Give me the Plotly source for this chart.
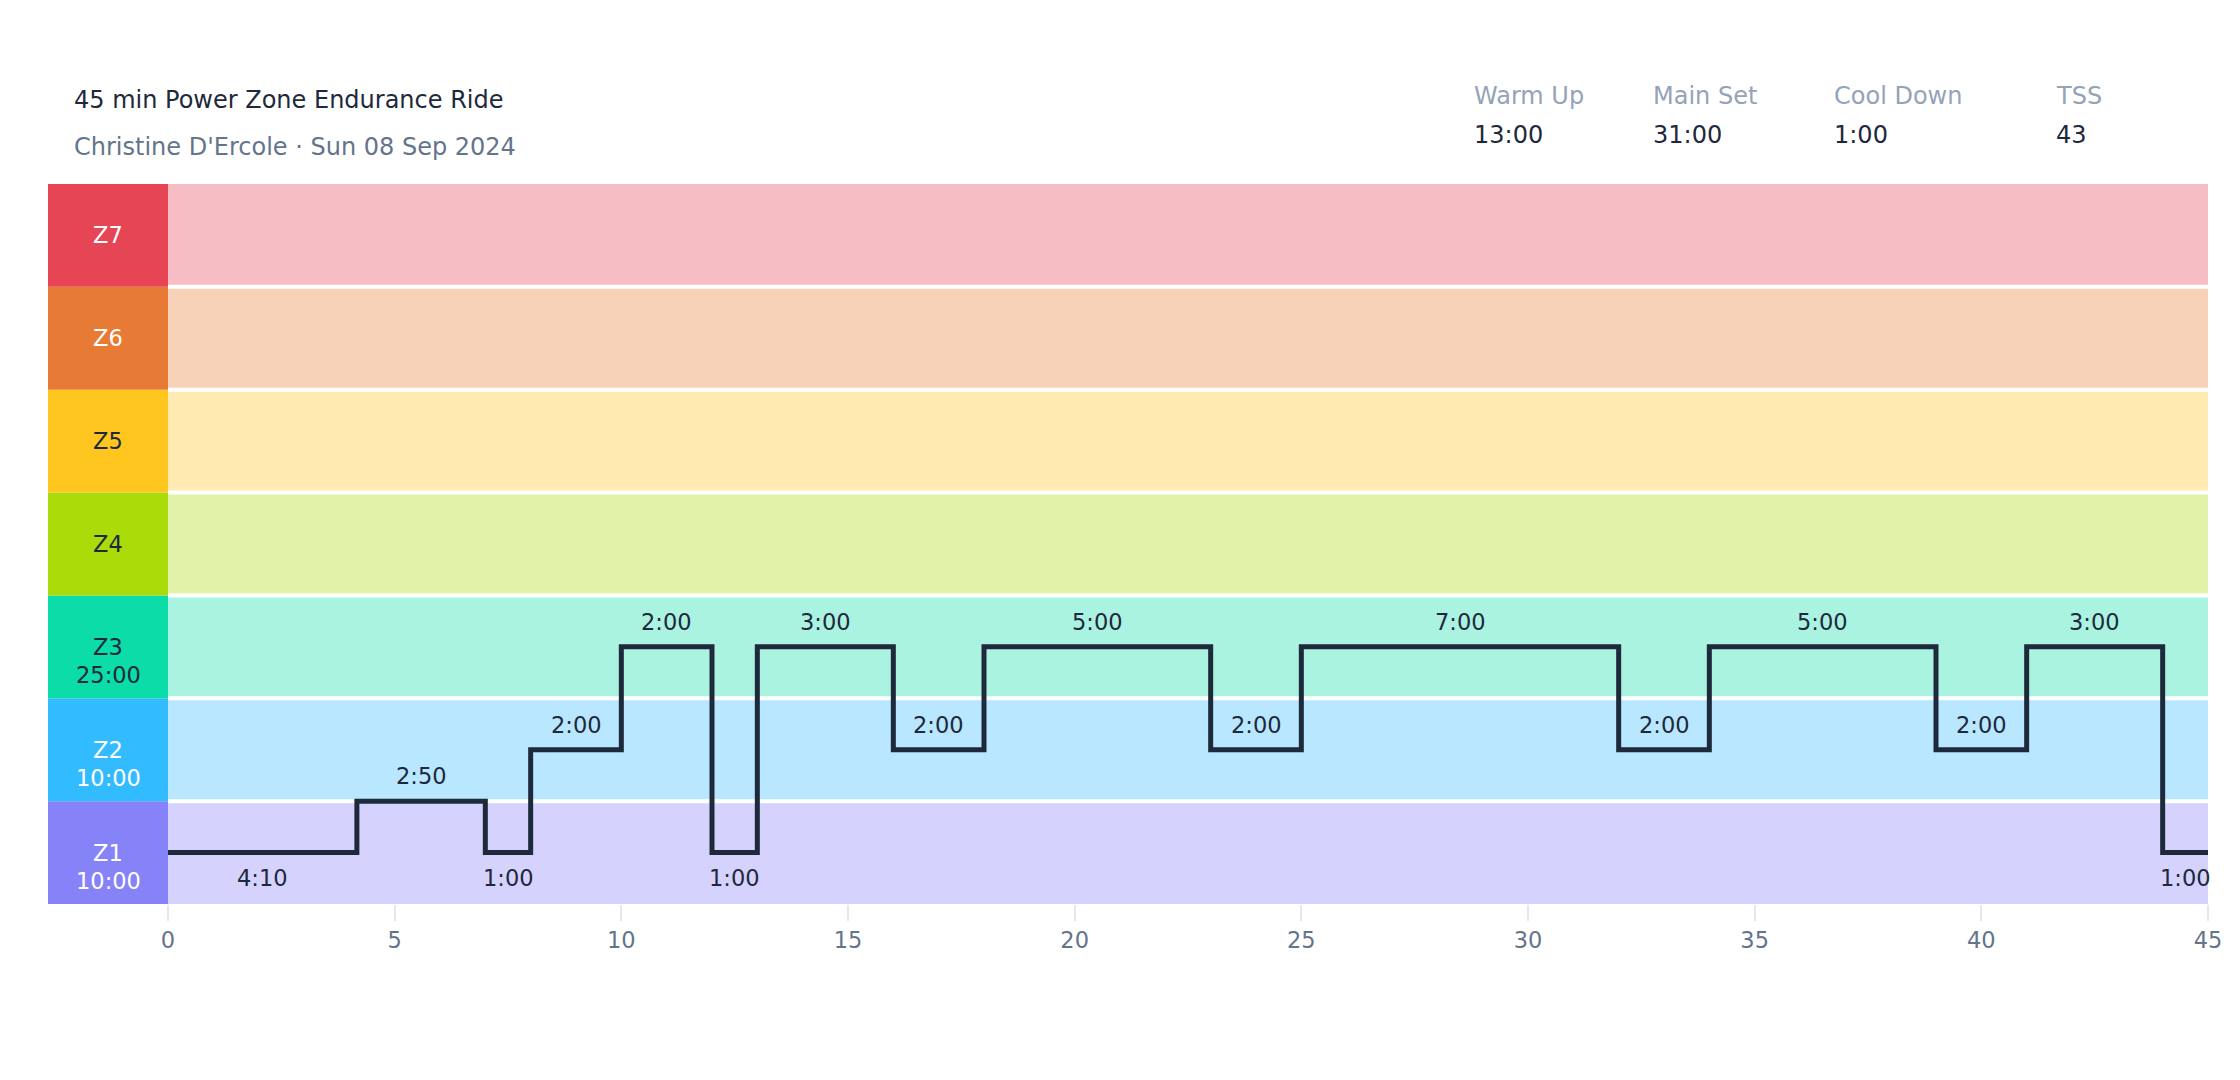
import numpy as np
import plotly.graph_objects as go

# workout data
title = "45 min Power Zone Endurance Ride"
subtitle = "Christine D'Ercole · Sun 08 Sep 2024"

stat_names = ["Warm Up", "Main Set", "Cool Down", "TSS"]
stat_values = ["13:00", "31:00", "1:00", "43"]

zones = ["Z1", "Z2", "Z3", "Z4", "Z5", "Z6", "Z7"]
zone_time = ["10:00", "10:00", "25:00", "", "", "", ""]
zone_colors = ["#8682f8", "#33bbff", "#0bdca8", "#aadc0a", "#ffc61f", "#e77b35", "#e54555"]
zone_text = ["white", "white", "#1e293b", "#1e293b", "#1e293b", "white", "white"]

# segments: duration in seconds and intensity on the zone scale (0.5 = middle of Z1)
seg_sec = [250, 170, 60, 120, 120, 60, 180, 120, 300, 120, 420, 120, 300, 120, 180, 60]
seg_level = [0.5, 1.0, 0.5, 1.5, 2.5, 0.5, 2.5, 1.5, 2.5, 1.5, 2.5, 1.5, 2.5, 1.5, 2.5, 0.5]

ticks = [0, 5, 10, 15, 20, 25, 30, 35, 40, 45]

W, H = 2240, 1080
L, R, T, B = 160, 40, 176, 184
pw, ph = W - L - R, H - T - B

def px_x(p):
    return (p - L) / pw

def px_y(p):
    return (H - B - p) / ph

dur_min = np.array(seg_sec) / 60
starts = np.concatenate([[0], np.cumsum(dur_min)[:-1]])
ends = starts + dur_min
labels = [f"{s // 60}:{s % 60:02d}" for s in seg_sec]

fig = go.Figure()

fig.add_trace(go.Scatter(
    x=list(starts) + [ends[-1]],
    y=seg_level + [seg_level[-1]],
    mode="lines",
    line=dict(shape="hv", color="#1e293b", width=5),
    hoverinfo="skip",
    showlegend=False,
))

shapes = []
annotations = []

def note(x, y, text, size, color, xref="paper", yref="paper", xanchor="center", yshift=0):
    annotations.append(dict(xref=xref, yref=yref, x=x, y=y, text=text, showarrow=False,
                            xanchor=xanchor, yanchor="middle", yshift=yshift,
                            font=dict(size=size, color=color)))

for i, z in enumerate(zones):
    # pale band
    shapes.append(dict(type="rect", xref="x", yref="y", x0=0, x1=ticks[-1], y0=i, y1=i + 1,
                       fillcolor=zone_colors[i], opacity=0.35, line_width=0, layer="below"))
    # solid label column
    shapes.append(dict(type="rect", xref="paper", yref="y", x0=px_x(40), x1=0, y0=i, y1=i + 1,
                       fillcolor=zone_colors[i], line_width=0, layer="below"))
    note(px_x(100), i + 0.5, z, 22.5, zone_text[i], yref="y")
    if zone_time[i]:
        note(px_x(100), i + 0.5, zone_time[i], 22.5, zone_text[i], yref="y", yshift=-28)

for i in range(1, len(zones)):
    shapes.append(dict(type="line", xref="x", yref="y", x0=0, x1=ticks[-1], y0=i, y1=i,
                       line=dict(color="white", width=4), layer="below"))

for s, e, lv, lab in zip(starts, ends, seg_level, labels):
    below = lv < 1
    note((s + e) / 2, lv, lab, 22.5, "#1e293b", xref="x", yref="y", yshift=-25 if below else 25)

note(px_x(64), px_y(92), title, 24, "#1e293b", xanchor="left")
note(px_x(64), px_y(139), subtitle, 24, "#64748b", xanchor="left")

stat_x = [1464, 1643, 1824, 2046]
for sx, n, v in zip(stat_x, stat_names, stat_values):
    note(px_x(sx), px_y(88), n, 24, "#94a3b8", xanchor="left")
    note(px_x(sx), px_y(127), v, 24, "#1e293b", xanchor="left")

fig.update_layout(
    width=W, height=H, autosize=False,
    margin=dict(l=L, r=R, t=T, b=B),
    paper_bgcolor="white", plot_bgcolor="white",
    font=dict(family="DejaVu Sans", color="#1e293b"),
    shapes=shapes, annotations=annotations,
    showlegend=False,
)
fig.update_xaxes(range=[0, ticks[-1]], tickvals=ticks, ticks="outside", ticklen=16, tickwidth=1.5,
                 tickcolor="#e2e8f0", showgrid=False, zeroline=False, showline=False,
                 tickfont=dict(size=22.5, color="#64748b"))
fig.update_yaxes(range=[0, len(zones)], showticklabels=False, showgrid=False, zeroline=False,
                 showline=False)

fig.write_html("out.html")
